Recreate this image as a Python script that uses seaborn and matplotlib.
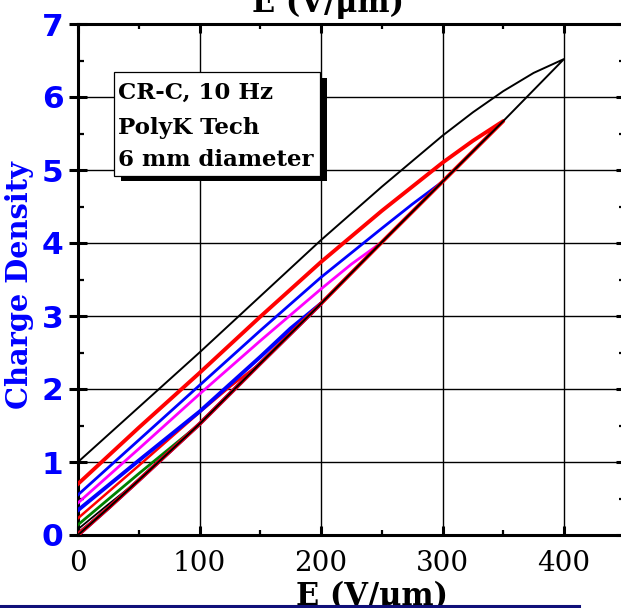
import matplotlib
matplotlib.use("Agg")
import matplotlib.pyplot as plt
import matplotlib.transforms as mtransforms
from matplotlib.lines import Line2D
from matplotlib.patches import Rectangle
from matplotlib.ticker import MultipleLocator
import pandas as pd
import seaborn as sns

# Charging branch (field increasing), shared by every unipolar loop
E_charge = [0, 25, 50, 100, 150, 200, 250, 300, 350, 400]
D_charge = [0.0, 0.37, 0.75, 1.52, 2.35, 3.17, 4.01, 4.84, 5.67, 6.52]

# Discharging branches (field decreasing from each peak field back to zero)
E_dis_400 = [400, 375, 350, 325, 300, 250, 200, 150, 100, 50, 0]
D_dis_400 = [6.52, 6.33, 6.08, 5.79, 5.47, 4.77, 4.04, 3.27, 2.50, 1.75, 1.00]

E_dis_350 = [350, 325, 300, 250, 200, 150, 100, 50, 0]
D_dis_350 = [5.67, 5.40, 5.10, 4.44, 3.74, 2.99, 2.22, 1.47, 0.70]

E_dis_300 = [300, 275, 250, 200, 150, 100, 50, 0]
D_dis_300 = [4.84, 4.53, 4.20, 3.53, 2.80, 2.05, 1.30, 0.55]

E_dis_250 = [250, 225, 200, 150, 100, 50, 0]
D_dis_250 = [4.02, 3.71, 3.37, 2.66, 1.93, 1.18, 0.44]

E_dis_200 = [200, 175, 150, 100, 50, 0]
D_dis_200 = [3.18, 2.83, 2.44, 1.69, 1.02, 0.34]

E_dis_150 = [150, 125, 100, 50, 0]
D_dis_150 = [2.35, 2.03, 1.68, 0.95, 0.23]

E_dis_100 = [100, 75, 50, 0]
D_dis_100 = [1.52, 1.18, 0.84, 0.14]

E_dis_50 = [50, 25, 0]
D_dis_50 = [0.75, 0.42, 0.08]

E_dis_25 = [25, 0]
D_dis_25 = [0.37, 0.04]

# peak field -> (discharge E, discharge D, colour, line width)
loops = [
    (25, E_dis_25, D_dis_25, "#c00000", 1.0),
    (50, E_dis_50, D_dis_50, "black", 1.3),
    (100, E_dis_100, D_dis_100, "#008000", 2.0),
    (150, E_dis_150, D_dis_150, "#ff0000", 1.8),
    (200, E_dis_200, D_dis_200, "#0000ff", 2.8),
    (250, E_dis_250, D_dis_250, "#ff00ff", 2.0),
    (300, E_dis_300, D_dis_300, "#0000ff", 2.0),
    (350, E_dis_350, D_dis_350, "#ff0000", 2.8),
    (400, E_dis_400, D_dis_400, "black", 1.4),
]

fig = plt.figure(figsize=(6.21, 6.08), dpi=100)
ax = fig.add_axes([78 / 621, 73 / 608, 546.75 / 621, 511 / 608])

for peak, e_dis, d_dis, color, lw in loops:
    e_up = [e for e in E_charge if e <= peak]
    d_up = D_charge[:len(e_up)]
    loop_df = pd.DataFrame({
        "E": e_up + e_dis[1:],
        "D": d_up + d_dis[1:],
    })
    sns.lineplot(data=loop_df, x="E", y="D", sort=False, estimator=None,
                 color=color, lw=lw, ax=ax, legend=False, zorder=3)

ax.set_xlim(0, 450)
ax.set_ylim(0, 7)

x_ticks = [0, 100, 200, 300, 400]
y_ticks = [0, 1, 2, 3, 4, 5, 6, 7]
ax.set_xticks(x_ticks, labels=[str(t) for t in x_ticks],
              fontfamily="DejaVu Serif", fontsize=20)
ax.set_yticks(y_ticks, labels=[str(t) for t in y_ticks],
              fontfamily="DejaVu Sans", fontweight="bold", fontsize=22.5,
              color="#0000ff")
ax.xaxis.set_minor_locator(MultipleLocator(50))
ax.yaxis.set_minor_locator(MultipleLocator(0.5))

ax.tick_params(axis="x", which="major", direction="in", length=6.5, width=2.2,
               top=True, pad=11)
ax.tick_params(axis="x", which="minor", direction="in", length=3.8, width=1.6,
               top=True)
ax.tick_params(axis="y", which="major", direction="inout", length=13, width=2.2,
               right=True, pad=4.0)
ax.tick_params(axis="y", which="minor", direction="in", length=4.3, width=1.6,
               right=True)
for spine in ax.spines.values():
    spine.set_linewidth(2.2)
    spine.set_color("black")

ax.set_axisbelow(True)
ax.grid(True, which="major", color="black", lw=1.0)
ax.set_facecolor("white")

ax.set_ylabel("Charge Density", fontfamily="DejaVu Serif", fontweight="bold",
              fontsize=20.8, color="#0000ff")
ax.yaxis.set_label_coords(-0.0805, 0.49)
ax.set_xlabel("E (V/\u03bcm)", fontfamily="DejaVu Serif", fontweight="bold",
              fontsize=22)
ax.xaxis.set_label_coords(0.5377, -0.137)
ax.xaxis.label.set_va("baseline")

fig.text(328 / 621, 1 - 12 / 608, "E (V/\u03bcm)", ha="center", va="baseline",
         fontfamily="DejaVu Serif", fontweight="bold", fontsize=22)

# annotation box with a drop shadow
box_x0, box_x1 = 29.6, 199.0
box_y0, box_y1 = 4.92, 6.34
shadow_tr = ax.transData + mtransforms.ScaledTranslation(7 / 100, -5.5 / 100,
                                                         fig.dpi_scale_trans)
ax.add_patch(Rectangle((box_x0, box_y0), box_x1 - box_x0, box_y1 - box_y0,
                       facecolor="black", edgecolor="none",
                       transform=shadow_tr, zorder=5))
ax.add_patch(Rectangle((box_x0, box_y0), box_x1 - box_x0, box_y1 - box_y0,
                       facecolor="white", edgecolor="black", lw=0.9, zorder=6))
box_lines = ["CR-C, 10 Hz", "PolyK Tech", "6 mm diameter"]
box_baselines = [5.97, 5.49, 5.05]
for txt, yb in zip(box_lines, box_baselines):
    ax.text(33, yb, txt, fontfamily="DejaVu Serif", fontweight="bold",
            fontsize=16.5, va="baseline", ha="left", zorder=7)

fig.add_artist(Line2D([0, 579 / 621], [2.5 / 608, 2.5 / 608],
                      transform=fig.transFigure, color="#10107a", lw=2.2))

fig.savefig("out.png", dpi=100)
